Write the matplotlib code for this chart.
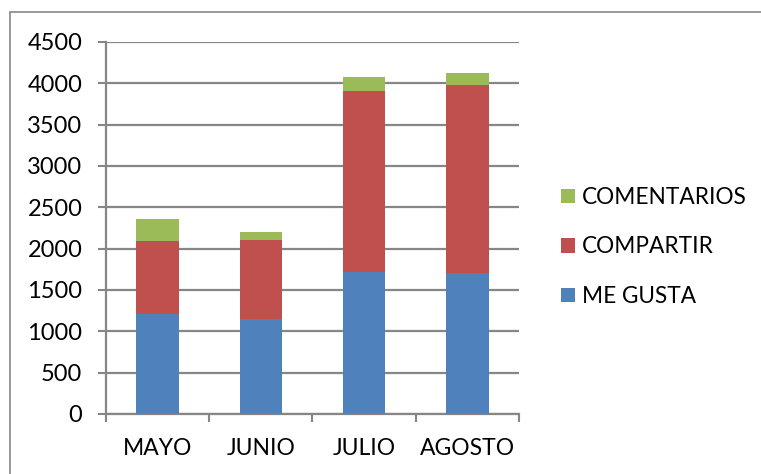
import matplotlib
matplotlib.use("Agg")
import matplotlib.pyplot as plt
from matplotlib.patches import Rectangle

months = ["MAYO", "JUNIO", "JULIO", "AGOSTO"]
me_gusta = [1205, 1145, 1715, 1700]
compartir = [890, 965, 2190, 2285]
comentarios = [260, 90, 170, 135]
yticks = [0, 500, 1000, 1500, 2000, 2500, 3000, 3500, 4000, 4500]

c_blue = "#4F81BD"
c_red = "#C0504D"
c_green = "#9BBB59"
grid_c = "#868686"

plt.rcParams['font.family'] = ['Lato', 'DejaVu Sans']

W, H = 761, 474
fig = plt.figure(figsize=(W / 100, H / 100), dpi=100)
ax = fig.add_axes([106 / W, 1 - 414 / H, (519 - 106) / W, (414 - 42) / H])

x = list(range(len(months)))
bw = 0.41
b1 = ax.bar(x, me_gusta, bw, color=c_blue, label="ME GUSTA", zorder=3)
bottom2 = me_gusta
b2 = ax.bar(x, compartir, bw, bottom=bottom2, color=c_red, label="COMPARTIR", zorder=3)
bottom3 = [a + b for a, b in zip(me_gusta, compartir)]
b3 = ax.bar(x, comentarios, bw, bottom=bottom3, color=c_green, label="COMENTARIOS", zorder=3)

ax.set_xlim(-0.5, len(months) - 0.5)
ax.set_ylim(0, 4500)
ax.set_yticks(yticks)
ax.set_yticklabels([str(v) for v in yticks], fontsize=17)
ax.set_xticks(x)
ax.set_xticklabels(months, fontsize=16.5)
ax.set_xticks([i - 0.5 for i in range(len(months) + 1)], minor=True)
ax.tick_params(axis='x', which='major', length=0, pad=17)
ax.tick_params(axis='x', which='minor', length=6, width=1.5, color=grid_c, direction='out')
ax.tick_params(axis='y', which='major', length=6, width=1.5, color=grid_c, direction='out', pad=11)

ax.yaxis.grid(True, color=grid_c, linewidth=1.6, zorder=0)
ax.set_axisbelow(True)
for s in ["top", "right"]:
    ax.spines[s].set_visible(False)
for s in ["left", "bottom"]:
    ax.spines[s].set_color(grid_c)
    ax.spines[s].set_linewidth(1.6)

handles = [b3, b2, b1]
labels = ["COMENTARIOS", "COMPARTIR", "ME GUSTA"]
leg = fig.legend(handles, labels, loc="center left",
                 bbox_to_anchor=(541 / W, 1 - 247 / H),
                 frameon=False, fontsize=16.3, handlelength=0.6, handleheight=0.6,
                 handletextpad=0.3, labelspacing=1.27)

# outer chart border
fig.add_artist(Rectangle((10 / W, -0.1), 1.0, 1 - 12 / H + 0.1,
                         transform=fig.transFigure, fill=False,
                         edgecolor=grid_c, linewidth=1.2))

fig.savefig("out.png", dpi=100)
